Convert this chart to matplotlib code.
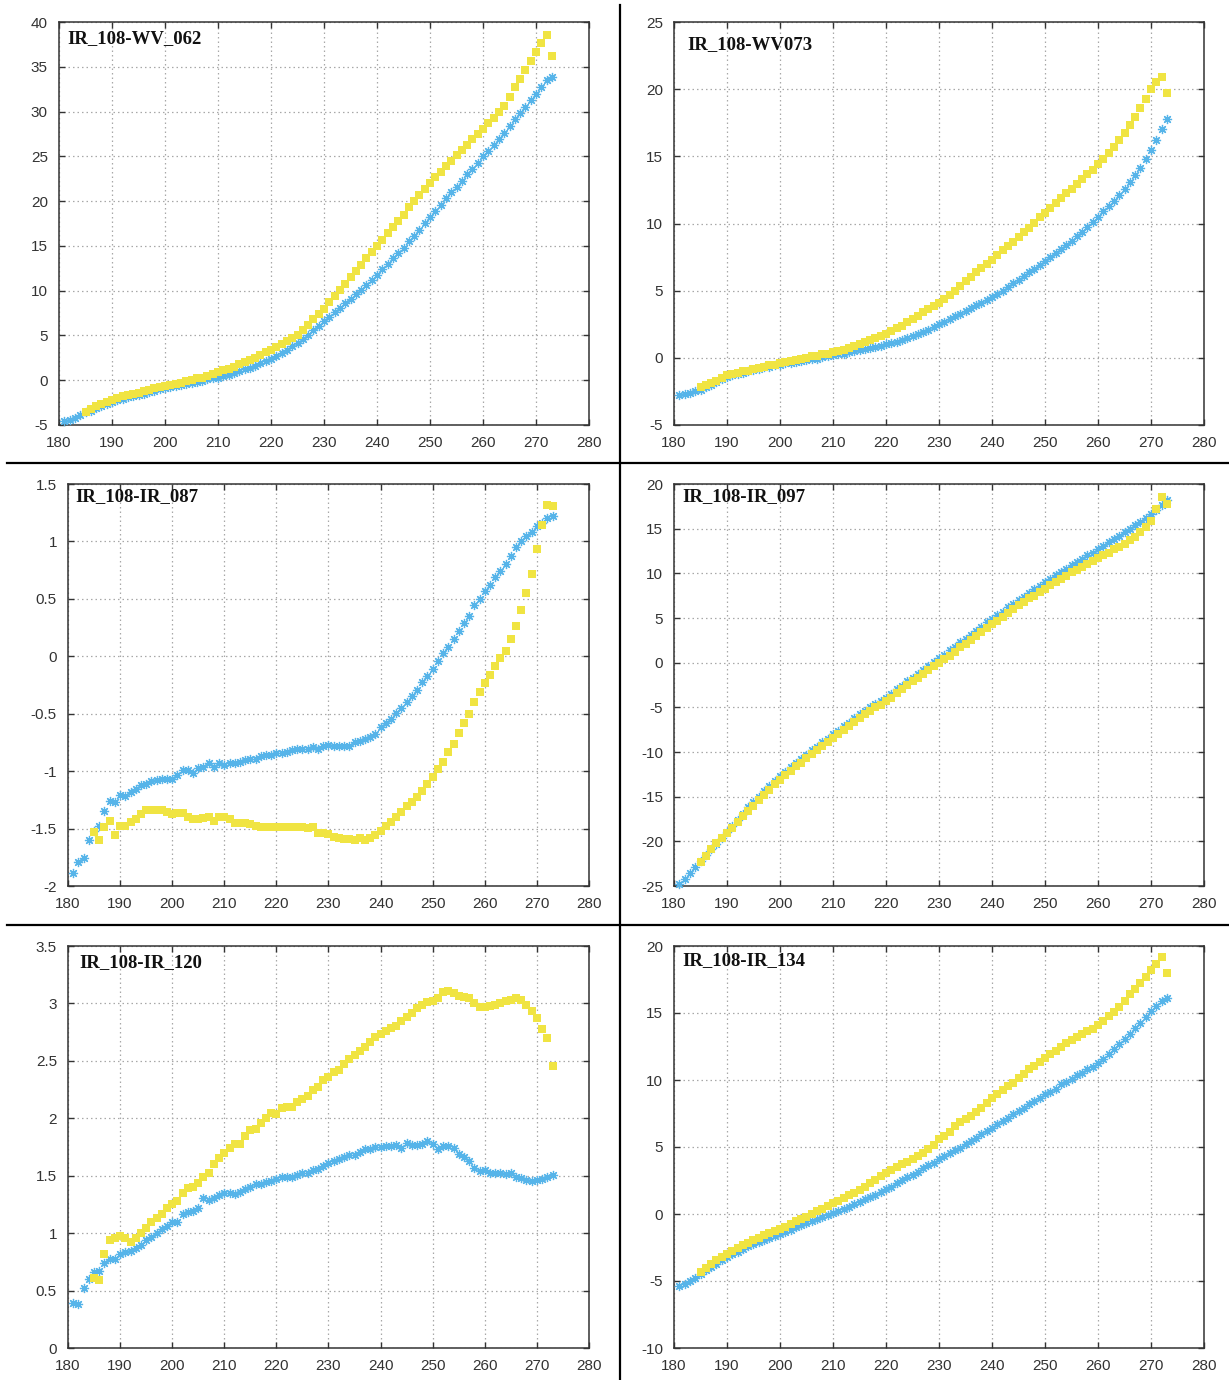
import matplotlib
matplotlib.use("Agg")
import matplotlib.pyplot as plt
from matplotlib.lines import Line2D
from matplotlib.ticker import MultipleLocator, FuncFormatter

plt.rcParams['axes.unicode_minus'] = False

# ---------------- data ----------------
t_blue = list(range(181, 274))   # brightness temperature (K), asterisk series
t_yel = list(range(185, 274))    # brightness temperature (K), square series

wv062_blue = [-4.5, -4.4, -4.2, -3.9, -3.6, -3.4, -3.1, -2.9, -2.6, -2.4,
              -2.2, -2.1, -1.9, -1.8, -1.6, -1.5, -1.3, -1.2, -1.0, -0.9,
              -0.8, -0.7, -0.5, -0.4, -0.3, -0.2, -0.1, 0.1, 0.2, 0.3,
              0.5, 0.6, 0.8, 1.0, 1.2, 1.4, 1.6, 1.9, 2.1, 2.4,
              2.7, 3.0, 3.4, 3.8, 4.2, 4.6, 5.1, 5.6, 6.1, 6.6,
              7.1, 7.6, 8.1, 8.6, 9.1, 9.6, 10.1, 10.6, 11.2, 11.8,
              12.4, 13.0, 13.6, 14.2, 14.8, 15.5, 16.1, 16.8, 17.5, 18.2,
              18.9, 19.6, 20.3, 21.0, 21.6, 22.3, 23.0, 23.6, 24.3, 25.0,
              25.6, 26.3, 26.9, 27.6, 28.4, 29.2, 29.8, 30.5, 31.3, 32.0,
              32.7, 33.5, 33.9]
wv062_yel = [-3.5, -3.2, -2.9, -2.6, -2.4, -2.2, -2.0, -1.8, -1.7, -1.5,
             -1.4, -1.2, -1.1, -0.9, -0.8, -0.7, -0.5, -0.4, -0.3, -0.1,
             0.0, 0.2, 0.3, 0.5, 0.7, 0.9, 1.1, 1.3, 1.5, 1.8,
             2.0, 2.3, 2.5, 2.8, 3.1, 3.4, 3.7, 4.0, 4.4, 4.7,
             5.1, 5.6, 6.2, 6.8, 7.4, 8.0, 8.7, 9.4, 10.1, 10.8,
             11.5, 12.2, 12.9, 13.6, 14.3, 15.0, 15.7, 16.4, 17.1, 17.8,
             18.5, 19.3, 20.0, 20.7, 21.4, 22.0, 22.7, 23.3, 23.9, 24.5,
             25.1, 25.7, 26.3, 26.9, 27.5, 28.1, 28.7, 29.3, 29.9, 30.6,
             31.6, 32.7, 33.6, 34.6, 35.7, 36.6, 37.6, 38.5, 36.2]

wv073_blue = [-2.8, -2.7, -2.6, -2.5, -2.4, -2.2, -2.0, -1.8, -1.6, -1.4,
              -1.3, -1.2, -1.1, -1.0, -0.9, -0.8, -0.7, -0.65, -0.55, -0.5,
              -0.4, -0.35, -0.3, -0.2, -0.15, -0.1, -0.05, 0.05, 0.1, 0.2,
              0.25, 0.3, 0.4, 0.5, 0.6, 0.65, 0.7, 0.8, 0.9, 1.0,
              1.1, 1.2, 1.3, 1.45, 1.6, 1.75, 1.9, 2.1, 2.3, 2.5,
              2.7, 2.9, 3.1, 3.3, 3.5, 3.7, 3.9, 4.1, 4.3, 4.5,
              4.75, 5.0, 5.3, 5.55, 5.8, 6.1, 6.4, 6.65, 6.9, 7.2,
              7.5, 7.8, 8.1, 8.4, 8.7, 9.05, 9.4, 9.75, 10.1, 10.5,
              10.9, 11.3, 11.7, 12.1, 12.6, 13.1, 13.6, 14.1, 14.8, 15.5,
              16.2, 17.0, 17.8]
wv073_yel = [-2.2, -2.0, -1.9, -1.7, -1.5, -1.3, -1.2, -1.1, -1.0, -0.95,
             -0.85, -0.75, -0.65, -0.55, -0.5, -0.4, -0.3, -0.25, -0.15, -0.1,
             0.0, 0.1, 0.15, 0.25, 0.3, 0.4, 0.5, 0.6, 0.7, 0.85,
             1.0, 1.15, 1.3, 1.45, 1.6, 1.8, 2.0, 2.2, 2.4, 2.65,
             2.9, 3.15, 3.4, 3.6, 3.85, 4.1, 4.4, 4.7, 5.0, 5.35,
             5.7, 6.05, 6.4, 6.7, 7.0, 7.3, 7.65, 8.0, 8.3, 8.65,
             9.0, 9.35, 9.7, 10.05, 10.45, 10.8, 11.15, 11.5, 11.9, 12.25,
             12.6, 12.95, 13.3, 13.65, 14.0, 14.4, 14.8, 15.25, 15.7, 16.2,
             16.7, 17.3, 17.9, 18.6, 19.3, 20.0, 20.5, 20.9, 19.7]

ir087_blue = [-1.89, -1.79, -1.76, -1.60, -1.52, -1.48, -1.35, -1.26, -1.27, -1.21,
              -1.22, -1.18, -1.155, -1.12, -1.11, -1.09, -1.08, -1.07, -1.07, -1.07,
              -1.03, -0.99, -0.99, -1.02, -0.97, -0.96, -0.93, -0.96, -0.93, -0.945,
              -0.93, -0.93, -0.92, -0.90, -0.89, -0.89, -0.87, -0.86, -0.86, -0.84,
              -0.84, -0.83, -0.82, -0.81, -0.81, -0.81, -0.79, -0.81, -0.78, -0.77,
              -0.78, -0.78, -0.78, -0.78, -0.75, -0.74, -0.72, -0.705, -0.676, -0.62,
              -0.58, -0.55, -0.49, -0.45, -0.40, -0.345, -0.29, -0.226, -0.17, -0.11,
              -0.04, 0.027, 0.084, 0.148, 0.223, 0.287, 0.35, 0.447, 0.50, 0.57,
              0.624, 0.688, 0.74, 0.80, 0.876, 0.955, 1.007, 1.05, 1.085, 1.135,
              1.16, 1.20, 1.22]
ir087_yel = [-1.53, -1.60, -1.49, -1.43, -1.56, -1.48, -1.48, -1.44, -1.42, -1.37,
             -1.34, -1.34, -1.34, -1.34, -1.36, -1.37, -1.365, -1.365, -1.40, -1.42,
             -1.42, -1.41, -1.40, -1.43, -1.40, -1.395, -1.42, -1.45, -1.45, -1.455,
             -1.46, -1.475, -1.485, -1.49, -1.49, -1.49, -1.49, -1.49, -1.49, -1.49,
             -1.49, -1.495, -1.49, -1.54, -1.54, -1.545, -1.57, -1.585, -1.59, -1.59,
             -1.60, -1.585, -1.60, -1.58, -1.555, -1.52, -1.476, -1.445, -1.40, -1.36,
             -1.30, -1.27, -1.227, -1.17, -1.11, -1.05, -0.98, -0.917, -0.835, -0.765,
             -0.67, -0.58, -0.50, -0.40, -0.31, -0.23, -0.16, -0.084, -0.017, 0.05,
             0.148, 0.267, 0.40, 0.55, 0.72, 0.93, 1.14, 1.32, 1.31]

ir097_blue = [-24.8, -24.2, -23.5, -22.9, -22.2, -21.5, -20.9, -20.3, -19.6, -19.0,
              -18.3, -17.6, -16.9, -16.2, -15.6, -15.0, -14.4, -13.8, -13.2, -12.7,
              -12.2, -11.7, -11.2, -10.8, -10.3, -9.8, -9.4, -8.9, -8.5, -8.0,
              -7.6, -7.1, -6.7, -6.2, -5.8, -5.4, -5.0, -4.6, -4.3, -3.9,
              -3.5, -3.0, -2.6, -2.1, -1.7, -1.3, -0.8, -0.4, 0.1, 0.5,
              0.9, 1.4, 1.8, 2.3, 2.7, 3.1, 3.6, 4.0, 4.5, 4.9,
              5.3, 5.7, 6.2, 6.6, 7.0, 7.4, 7.8, 8.2, 8.6, 9.0,
              9.4, 9.8, 10.2, 10.5, 10.9, 11.3, 11.6, 12.0, 12.3, 12.7,
              13.1, 13.5, 13.8, 14.2, 14.6, 15.0, 15.4, 15.8, 16.2, 16.6,
              17.1, 17.7, 18.2]
ir097_yel = [-22.3, -21.6, -20.9, -20.2, -19.6, -19.1, -18.5, -17.8, -17.2, -16.6,
             -16.0, -15.4, -14.8, -14.2, -13.6, -13.1, -12.6, -12.1, -11.6, -11.2,
             -10.7, -10.2, -9.8, -9.3, -8.9, -8.4, -8.0, -7.5, -7.1, -6.6,
             -6.2, -5.8, -5.4, -5.0, -4.7, -4.3, -3.9, -3.4, -3.0, -2.5,
             -2.1, -1.7, -1.3, -0.8, -0.4, 0.0, 0.4, 0.8, 1.2, 1.7,
             2.1, 2.5, 3.0, 3.4, 3.9, 4.3, 4.7, 5.1, 5.6, 6.0,
             6.4, 6.8, 7.2, 7.5, 7.9, 8.3, 8.7, 9.0, 9.4, 9.7,
             10.1, 10.4, 10.7, 11.0, 11.4, 11.7, 12.0, 12.3, 12.7, 13.0,
             13.3, 13.7, 14.1, 14.6, 15.2, 15.9, 17.2, 18.6, 17.8]

ir120_blue = [0.394, 0.383, 0.52, 0.60, 0.665, 0.67, 0.737, 0.772, 0.772, 0.82,
              0.84, 0.845, 0.868, 0.897, 0.94, 0.97, 1.004, 1.033, 1.06, 1.10,
              1.10, 1.167, 1.187, 1.195, 1.216, 1.31, 1.29, 1.31, 1.33, 1.347,
              1.35, 1.34, 1.36, 1.38, 1.40, 1.425, 1.428, 1.448, 1.454, 1.468,
              1.49, 1.49, 1.486, 1.51, 1.52, 1.527, 1.55, 1.556, 1.587, 1.61,
              1.63, 1.645, 1.666, 1.68, 1.68, 1.71, 1.73, 1.73, 1.752, 1.752,
              1.758, 1.76, 1.767, 1.744, 1.787, 1.767, 1.767, 1.78, 1.805, 1.776,
              1.733, 1.76, 1.76, 1.744, 1.69, 1.666, 1.628, 1.564, 1.544, 1.55,
              1.527, 1.52, 1.527, 1.515, 1.52, 1.49, 1.477, 1.463, 1.454, 1.463,
              1.468, 1.486, 1.51]
ir120_yel = [0.607, 0.592, 0.818, 0.94, 0.955, 0.975, 0.955, 0.92, 0.955, 1.004,
             1.047, 1.094, 1.129, 1.167, 1.216, 1.254, 1.282, 1.352, 1.39, 1.40,
             1.434, 1.49, 1.52, 1.60, 1.657, 1.695, 1.744, 1.78, 1.78, 1.85,
             1.90, 1.91, 1.96, 2.00, 2.043, 2.037, 2.09, 2.095, 2.10, 2.144,
             2.165, 2.194, 2.246, 2.27, 2.333, 2.357, 2.40, 2.42, 2.47, 2.513,
             2.55, 2.586, 2.618, 2.66, 2.705, 2.734, 2.76, 2.783, 2.806, 2.847,
             2.88, 2.914, 2.958, 2.986, 3.01, 3.024, 3.045, 3.097, 3.108, 3.088,
             3.067, 3.06, 3.045, 3.00, 2.97, 2.97, 2.977, 2.986, 3.00, 3.024,
             3.03, 3.045, 3.03, 2.986, 2.93, 2.87, 2.777, 2.696, 2.455]

ir134_blue = [-5.4, -5.2, -5.0, -4.75, -4.5, -4.2, -3.95, -3.7, -3.45, -3.2,
              -3.0, -2.8, -2.6, -2.4, -2.25, -2.1, -1.95, -1.8, -1.65, -1.5,
              -1.35, -1.2, -1.0, -0.85, -0.7, -0.55, -0.4, -0.25, -0.05, 0.1,
              0.25, 0.4, 0.55, 0.75, 0.9, 1.1, 1.25, 1.45, 1.65, 1.85,
              2.05, 2.3, 2.51, 2.78, 2.89, 3.13, 3.46, 3.66, 3.83, 4.08,
              4.33, 4.53, 4.78, 4.95, 5.2, 5.45, 5.7, 5.95, 6.19, 6.44,
              6.69, 6.94, 7.19, 7.44, 7.69, 7.89, 8.19, 8.43, 8.68, 8.98,
              9.13, 9.35, 9.68, 9.85, 10.1, 10.35, 10.55, 10.8, 10.99, 11.29,
              11.59, 11.96, 12.34, 12.66, 13.04, 13.41, 13.9, 14.28, 14.72, 15.15,
              15.52, 15.9, 16.14]
ir134_yel = [-4.3, -4.0, -3.7, -3.45, -3.2, -2.95,
             -2.75, -2.55, -2.35, -2.15, -1.95, -1.8, -1.6, -1.45, -1.3, -1.15,
             -0.95, -0.75, -0.55, -0.4, -0.2, 0.0, 0.2, 0.4, 0.6, 0.8,
             1.0, 1.2, 1.4, 1.6, 1.8, 2.05, 2.3, 2.55, 2.8, 3.05,
             3.3, 3.5, 3.71, 3.9, 4.08, 4.33, 4.58, 4.85, 5.13, 5.57,
             5.82, 6.12, 6.57, 6.87, 7.07, 7.31, 7.63, 7.93, 8.31, 8.68,
             8.93, 9.25, 9.55, 9.80, 10.13, 10.43, 10.8, 11.04, 11.37, 11.66,
             11.92, 12.16, 12.49, 12.74, 12.99, 13.23, 13.41, 13.66, 13.83, 14.08,
             14.4, 14.78, 15.07, 15.45, 15.9, 16.4, 16.81, 17.21, 17.69, 18.19,
             18.68, 19.18, 17.96]

titles = ["IR_108-WV_062", "IR_108-WV073", "IR_108-IR_087",
          "IR_108-IR_097", "IR_108-IR_120", "IR_108-IR_134"]
ylims = [(-5, 40), (-5, 25), (-2, 1.5), (-25, 20), (0, 3.5), (-10, 20)]
ysteps = [5, 5, 0.5, 5, 0.5, 5]
blue_series = [wv062_blue, wv073_blue, ir087_blue, ir097_blue, ir120_blue, ir134_blue]
yel_series = [wv062_yel, wv073_yel, ir087_yel, ir097_yel, ir120_yel, ir134_yel]

# ---------------- layout / style ----------------
W, H = 1229, 1380
BLUE = "#56B4E9"
YEL = "#F0E442"
FRAME = "#333333"

# axes boxes in pixels: left, top, right, bottom
boxes = [(59, 22, 589, 425), (674, 22, 1204, 425),
         (68, 484, 589, 886), (674, 484, 1204, 886),
         (68, 946, 589, 1348), (674, 946, 1204, 1348)]
title_pos = [(0.015, 0.958), (0.025, 0.943), (0.015, 0.968),
             (0.015, 0.968), (0.021, 0.960), (0.015, 0.965)]

fig = plt.figure(figsize=(W / 100, H / 100), dpi=100)
fig.patch.set_facecolor("white")

tickfont = ['Liberation Sans Narrow', 'Liberation Sans', 'DejaVu Sans']

for i in range(6):
    l, t, r, b = boxes[i]
    ax = fig.add_axes([l / W, 1 - b / H, (r - l) / W, (b - t) / H])
    ax.plot(t_blue, blue_series[i], linestyle='none', marker=(8, 2, 0),
            markersize=6.6, markeredgewidth=0.9, color=BLUE, zorder=3,
            clip_on=False)
    ax.plot(t_yel, yel_series[i], linestyle='none', marker='s',
            markersize=5.3, markeredgewidth=0, color=YEL, zorder=4,
            clip_on=False)
    ax.set_xlim(180, 280)
    ax.set_ylim(*ylims[i])
    ax.xaxis.set_major_locator(MultipleLocator(10))
    ax.yaxis.set_major_locator(MultipleLocator(ysteps[i]))
    ax.yaxis.set_major_formatter(FuncFormatter(lambda v, p: "%g" % round(v, 3)))
    ax.xaxis.set_major_formatter(FuncFormatter(lambda v, p: "%g" % v))
    ax.grid(True, color="#a8a8a8", linestyle=(0, (1.2, 2.4)), linewidth=0.9)
    ax.set_axisbelow(True)
    for s in ax.spines.values():
        s.set_color(FRAME)
        s.set_linewidth(1.1)
    ax.tick_params(direction='in', length=4, width=1, color=FRAME,
                   top=True, right=True, labelsize=11, labelcolor="#333333",
                   pad=8)
    for lab in ax.get_xticklabels() + ax.get_yticklabels():
        lab.set_fontfamily(tickfont)
    ax.text(title_pos[i][0], title_pos[i][1], titles[i], transform=ax.transAxes,
            ha='left', va='center', fontsize=13.5, fontweight='bold',
            family=['Liberation Serif', 'DejaVu Serif'], color="#111111",
            zorder=6)

# separator lines
fig.add_artist(Line2D([7 / W, 1], [1 - 463 / H, 1 - 463 / H], color='black',
                      linewidth=1.6, transform=fig.transFigure))
fig.add_artist(Line2D([7 / W, 1], [1 - 925 / H, 1 - 925 / H], color='black',
                      linewidth=1.6, transform=fig.transFigure))
fig.add_artist(Line2D([620 / W, 620 / W], [1 - 5 / H, 0], color='black',
                      linewidth=1.6, transform=fig.transFigure))

fig.savefig("out.png", dpi=100)
